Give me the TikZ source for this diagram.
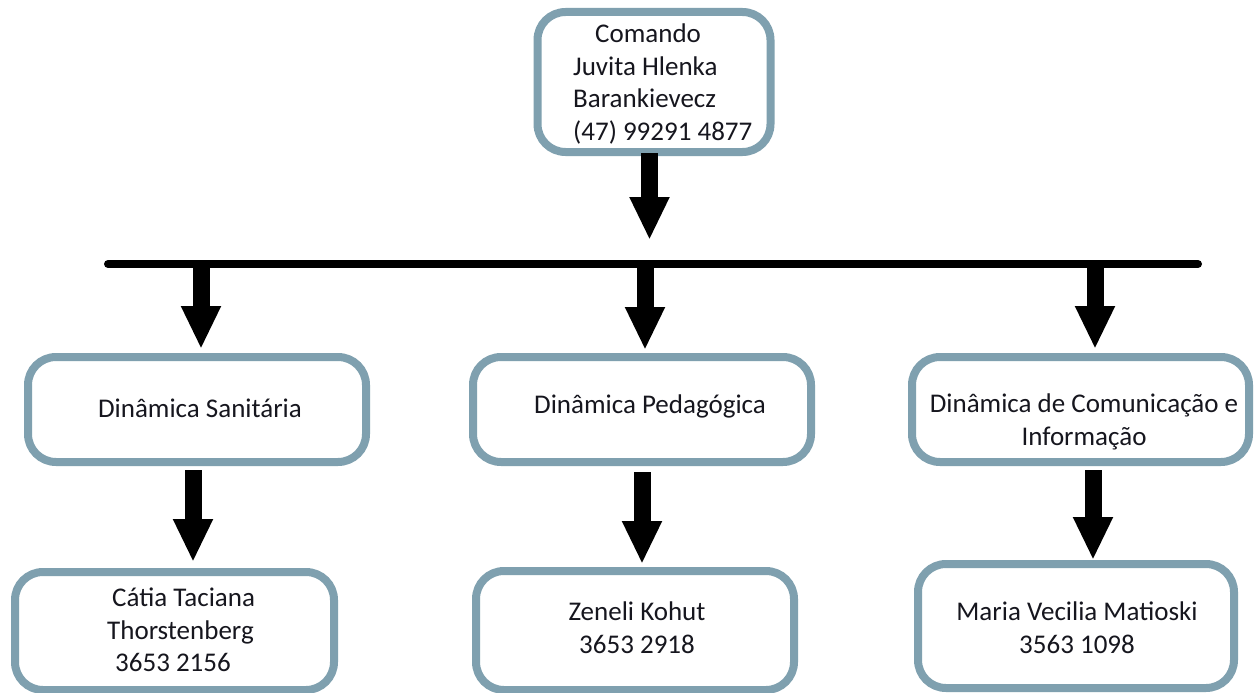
\documentclass[tikz,border=0pt]{standalone}
\usepackage{fontspec}
\setmainfont{Carlito}
\usetikzlibrary{arrows.meta}
\definecolor{boxline}{RGB}{127,160,175}
\definecolor{txt}{RGB}{22,22,30}
\tikzset{
  orgbox/.style={draw=boxline, line width=8pt, rounded corners=28pt, fill=white,
    inner sep=0pt, outer sep=0pt},
  orgtext/.style={text=txt, inner sep=0pt, font=\fontsize{27}{32.5}\selectfont},
  blockarrow/.style={draw=black, line width=17pt, -{Triangle[width=37pt,length=43pt]}},
  barline/.style={draw=black, line width=8pt, line cap=round}
}
\begin{document}
\begin{tikzpicture}[x=1pt,y=-1pt]
\useasboundingbox (0,0) rectangle (1256,693);
\fill[white] (0,0) rectangle (1256,693);
% boxes
\node[orgbox, minimum width=233pt, minimum height=140pt] (top) at (654,82) {};
\node[orgbox, minimum width=338pt, minimum height=105pt] (mL) at (197,409.5) {};
\node[orgbox, minimum width=338pt, minimum height=105pt] (mM) at (642,409.5) {};
\node[orgbox, minimum width=337pt, minimum height=105pt] (mR) at (1080.5,409.5) {};
\node[orgbox, minimum width=319pt, minimum height=118pt] (bL) at (174.5,631) {};
\node[orgbox, minimum width=318pt, minimum height=119pt] (bM) at (635,630.5) {};
\node[orgbox, minimum width=316pt, minimum height=124pt] (bR) at (1076,626) {};
% texts
\node[orgtext, align=left, anchor=west] (ttop) at (573,84) {\hspace*{22pt}Comando\\Juvita Hlenka\\Barankievecz\\(47) 99291 4877};
\node[orgtext] (tmL) at (200,408) {Dinâmica Sanitária};
\node[orgtext] (tmM) at (650,406) {Dinâmica Pedagógica};
\node[orgtext, align=center] (tmR) at (1084,422) {Dinâmica de Comunicação e\\Informação};
\node[orgtext, align=left, anchor=west] (tbL) at (107,630) {\hspace*{5pt}Cátia Taciana\\Thorstenberg\\\hspace*{8pt}3653 2156};
\node[orgtext, align=center] (tbM) at (637,627.5) {Zeneli Kohut\\3653 2918};
\node[orgtext, align=center] (tbR) at (1077,627.5) {Maria Vecilia Matioski\\3563 1098};
% bar
\coordinate (barL) at (108,264);
\coordinate (barR) at (1198,264);
\coordinate (j0) at (649.5,264);
\coordinate (j1) at (201,264);
\coordinate (j2) at (645,264);
\coordinate (j3) at (1095,264);
\coordinate (k1) at (193,500);
\coordinate (k2) at (642,500);
\coordinate (k3) at (1093,500);
\draw[barline] (barL) -- (barR);
% arrows
\draw[blockarrow, shorten <=1pt, shorten >=24pt] (top.south -| j0) -- (j0);
\draw[blockarrow, shorten >=8pt] (j1) -- (mL.north -| j1);
\draw[blockarrow, shorten >=7pt] (j2) -- (mM.north -| j2);
\draw[blockarrow, shorten >=8pt] (j3) -- (mR.north -| j3);
\draw[blockarrow, shorten <=8pt, shorten >=10pt] (mL.south -| k1) -- (bL.north -| k1);
\draw[blockarrow, shorten <=10pt, shorten >=7pt] (mM.south -| k2) -- (bM.north -| k2);
\draw[blockarrow, shorten <=8pt, shorten >=4pt] (mR.south -| k3) -- (bR.north -| k3);
\end{tikzpicture}
\end{document}
